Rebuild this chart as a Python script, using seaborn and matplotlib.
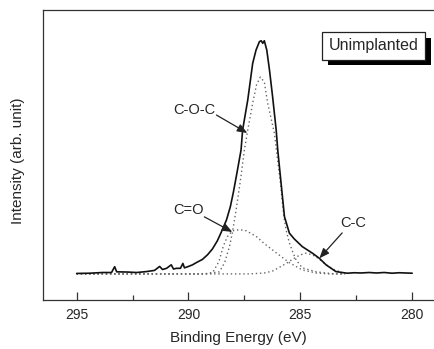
import numpy as np
import pandas as pd
import matplotlib
matplotlib.use('Agg')
import matplotlib.pyplot as plt
import matplotlib.patheffects as pe
from matplotlib.ticker import MultipleLocator
import seaborn as sns

# measured C1s envelope (binding energy in eV, intensity normalised to the peak)
env_ev = [295.00, 294.42, 293.84, 293.44, 293.30, 293.21, 292.72, 292.32, 291.88, 291.52,
          291.29, 291.16, 290.98, 290.77, 290.67, 290.54, 290.36, 290.25, 290.18, 290.00,
          289.82, 289.64, 289.38, 289.15, 288.93, 288.71, 288.53, 288.30, 288.13, 287.99,
          287.81, 287.65, 287.58, 287.35, 287.13, 286.98, 286.83, 286.75, 286.68, 286.61,
          286.50, 286.38, 286.24, 286.08, 286.01, 285.86, 285.71, 285.49, 285.27, 284.91,
          284.46, 284.15, 283.85, 283.41, 283.13, 282.90, 282.59, 282.30, 281.92, 281.60,
          281.25, 280.90, 280.58, 280.30, 280.00]
env_int = [0.002, 0.003, 0.006, 0.006, 0.031, 0.009, 0.008, 0.006, 0.010, 0.015,
           0.032, 0.019, 0.024, 0.039, 0.021, 0.024, 0.024, 0.045, 0.026, 0.032,
           0.039, 0.049, 0.062, 0.082, 0.107, 0.142, 0.180, 0.232, 0.288, 0.352,
           0.446, 0.532, 0.618, 0.747, 0.904, 0.961, 0.997, 1.001, 0.990, 1.001,
           0.961, 0.876, 0.761, 0.618, 0.532, 0.389, 0.246, 0.175, 0.150, 0.117,
           0.089, 0.067, 0.039, 0.010, 0.006, 0.003, 0.005, 0.004, 0.006, 0.004,
           0.006, 0.003, 0.005, 0.004, 0.003]

# fitted components
coc_ev = [295.0, 289.29, 288.62, 288.39, 288.17, 288.04, 287.87, 287.68, 287.50, 287.35,
          287.13, 286.96, 286.79, 286.61, 286.46, 286.16, 286.07, 285.89, 285.74, 285.64,
          285.49, 285.34, 285.19, 284.91, 284.29, 283.48, 283.0]
coc_int = [0.0, 0.0, 0.009, 0.047, 0.116, 0.176, 0.275, 0.400, 0.532, 0.618,
           0.733, 0.811, 0.845, 0.824, 0.733, 0.604, 0.532, 0.390, 0.249, 0.189,
           0.133, 0.094, 0.060, 0.026, 0.009, 0.0, 0.0]

co_ev = [295.0, 289.29, 288.93, 288.71, 288.62, 288.44, 288.26, 288.04, 287.72, 287.41,
         286.96, 286.61, 286.07, 285.49, 284.91, 284.29, 283.71, 283.0]
co_int = [0.0, 0.0, 0.005, 0.040, 0.060, 0.120, 0.160, 0.185, 0.190, 0.185,
          0.160, 0.130, 0.090, 0.048, 0.017, 0.004, 0.0, 0.0]

cc_ev = [295.0, 287.28, 286.61, 286.25, 285.94, 285.63, 285.36, 285.04, 284.78, 284.55,
         284.33, 284.11, 283.84, 283.53, 283.17, 283.0]
cc_int = [0.0, 0.0, 0.004, 0.012, 0.028, 0.045, 0.062, 0.080, 0.089, 0.084,
          0.076, 0.060, 0.039, 0.020, 0.007, 0.0]

ticks_ev = [295, 290, 285, 280]

sns.set_theme(style='white')
plt.rcParams['font.family'] = ['Liberation Sans', 'DejaVu Sans']

fig = plt.figure(figsize=(4.35, 3.49), dpi=100)
ax = fig.add_axes([0.099, 0.1404, 0.9, 0.831])

dot = (0, (1, 2))
for xs, ys in [(coc_ev, coc_int), (co_ev, co_int), (cc_ev, cc_int)]:
    sns.lineplot(x=xs, y=ys, ax=ax, color='#666666', lw=1.0, linestyle=dot,
                 sort=False, estimator=None)
sns.lineplot(x=env_ev, y=env_int, ax=ax, color='#111111', lw=1.2,
             sort=False, estimator=None)

ax.set_xlim(296.5, 279.0)
ax.set_ylim(-0.112, 1.133)
ax.set_xticks(ticks_ev)
ax.xaxis.set_minor_locator(MultipleLocator(2.5))
ax.set_yticks([])
ax.tick_params(axis='x', which='major', direction='in', length=6, width=0.9,
               color='#333333', labelsize=10, pad=6, bottom=True)
ax.tick_params(axis='x', which='minor', direction='in', length=3.5, width=0.9,
               color='#333333', bottom=True)
for s in ax.spines.values():
    s.set_color('#333333')
    s.set_linewidth(0.9)

ax.set_xlabel('Binding Energy (eV)', fontsize=11, labelpad=6)
ax.set_ylabel('Intensity (arb. unit)', fontsize=11)
ax.yaxis.set_label_coords(-0.046, 0.479)

arr = dict(arrowstyle='-|>,head_length=0.5,head_width=0.2', color='#222222', lw=0.9,
           shrinkA=0, shrinkB=0)
ax.text(289.73, 0.704, 'C-O-C', fontsize=10.5, ha='center', va='center')
ax.annotate('', xy=(287.37, 0.605), xytext=(288.75, 0.682), arrowprops=arr)
ax.text(290.0, 0.275, 'C=O', fontsize=10.5, ha='center', va='center')
ax.annotate('', xy=(288.04, 0.18), xytext=(289.29, 0.245), arrowprops=arr)
ax.text(282.63, 0.219, 'C-C', fontsize=10.5, ha='center', va='center')
ax.annotate('', xy=(284.15, 0.067), xytext=(283.13, 0.176), arrowprops=arr)

t = ax.text(281.72, 0.979, 'Unimplanted', fontsize=11.5, ha='center', va='center',
            bbox=dict(boxstyle='square,pad=0.4', fc='white', ec='#222222', lw=0.9))
t.get_bbox_patch().set_path_effects([
    pe.SimplePatchShadow(offset=(4, -4), shadow_rgbFace='black', alpha=1.0),
    pe.Normal()])

fig.savefig('out.png', dpi=100)
